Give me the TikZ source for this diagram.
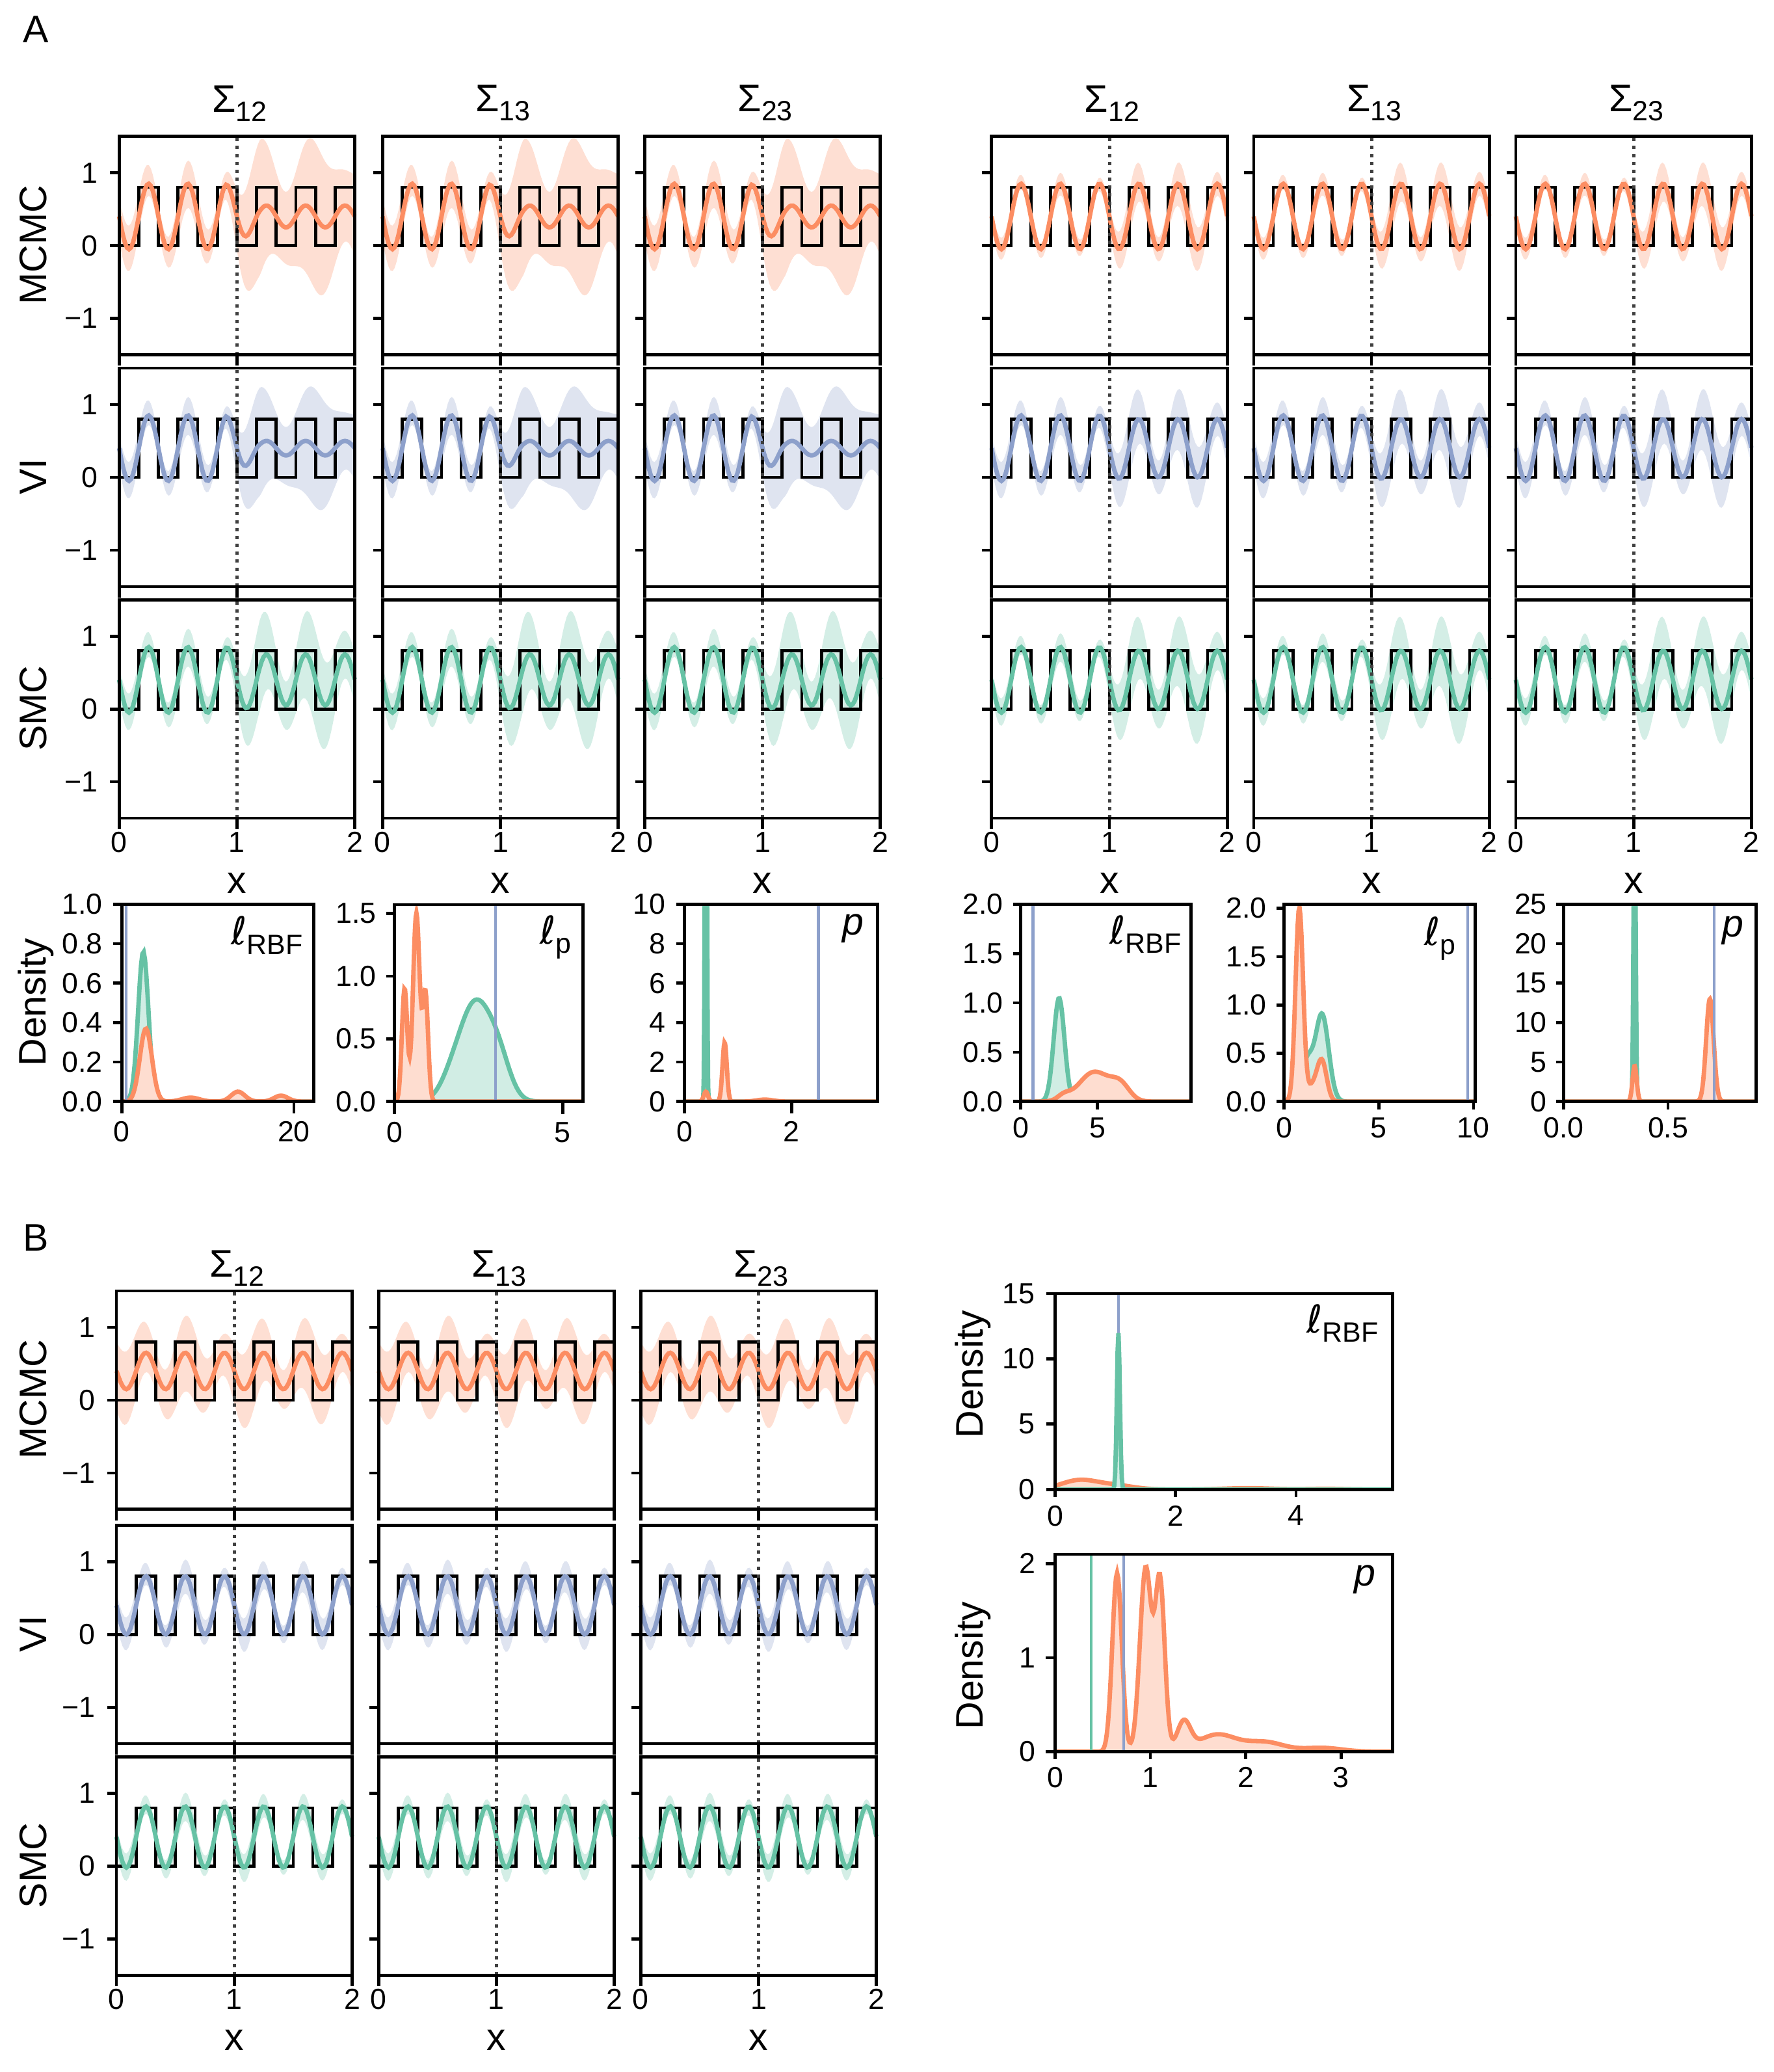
\documentclass[tikz,border=0pt]{standalone}
\usepackage{fontspec}
\setmainfont{Liberation Sans}
\newfontfamily\dv{DejaVu Sans}
\definecolor{mcmc}{HTML}{FC8D62}
\definecolor{vi}{HTML}{8DA0CB}
\definecolor{smc}{HTML}{66C2A5}
\newcommand\sub[1]{\raisebox{-0.45ex}{\fontsize{12}{12}\selectfont #1}}
\tikzset{
  tk/.style={font=\fontsize{12.5}{12}\selectfont},
  big/.style={font=\fontsize{16.5}{16}\selectfont},
  frame/.style={line width=1.3pt},
  meanl/.style={line width=1.9pt},
  declare function={g(\x,\m,\s,\h)=\h*exp(-0.5*min(abs((\x-\m)/\s),5)^2);
    sm(\x)=min(1,max(0,(\x-0.9)/0.3));}
}
\newcommand\gp[7]{%
\begin{scope}[shift={(#1,#2+82.5)},xscale=89,yscale=-55]
 \fill[#3!28] plot[domain=0:2,samples=120] (\x,{0.4+(#4+(#5-#4)*sm(\x))*cos(1080*(\x-0.25))+(#6+(#7-#6)*sm(\x))*(1+0.35*sin(700*\x))})
   -- plot[domain=2:0,samples=120] (\x,{0.4+(#4+(#5-#4)*sm(\x))*cos(1080*(\x-0.25))-(#6+(#7-#6)*sm(\x))*(1+0.35*cos(650*\x))}) -- cycle;
 \draw[line width=1.3pt] (0,0) \foreach \k in {0,...,5}{ -- ({\k/3+1/6},0) -- ({\k/3+1/6},0.8) -- ({\k/3+1/3},0.8) -- ({\k/3+1/3},0)} ;
 \draw[#3,meanl] plot[domain=0:2,samples=120] (\x,{0.4+(#4+(#5-#4)*sm(\x))*cos(1080*(\x-0.25))});
 \draw[line width=1.4pt,dotted,black!75] (1,-1.5)--(1,1.5);
 \draw[frame] (0,-1.5) rectangle (2,1.5);
 \foreach \y in {-1,0,1} \draw[frame] (-0.08,\y)--(0,\y);
 \foreach \x in {0,1,2} \draw[frame] (\x,-1.5)--(\x,-1.65);
\end{scope}}
\newcommand\ylab[2]{%
 \node[tk,anchor=east] at (#1-10,#2+27.5) {1};
 \node[tk,anchor=east] at (#1-10,#2+82.5) {0};
 \node[tk,anchor=east] at (#1-10,#2+137.5) {−1};}
\newcommand\xlab[2]{%
 \foreach \v [count=\i from 0] in {0,1,2} \node[tk] at (#1+\i*89,#2+183) {\v};
 \node[big] at (#1+89,#2+214) {x};}
\begin{document}
\begin{tikzpicture}[x=0.02cm,y=-0.02cm]
\useasboundingbox (0,0) rectangle (1340,1565);
\node[big] at (27,22) {A};
\node[big] at (27,935) {B};
\foreach \xa/\s in {90/12,289/13,487/23,749/12,947/13,1145/23}
  \node[big] at (\xa+91,78) {Σ\sub{\s}};
\foreach \xa/\s in {88/12,286/13,484/23}
  \node[big] at (\xa+91,958) {Σ\sub{\s}};
\foreach \xa in {90,289,487}{
 \gp{\xa}{103}{mcmc}{0.45}{0.15}{0.25}{0.75}
 \gp{\xa}{278}{vi}{0.45}{0.1}{0.2}{0.6}
 \gp{\xa}{453}{smc}{0.45}{0.35}{0.2}{0.5}
 \xlab{\xa}{453}}
\foreach \xa in {749,947,1145}{
 \gp{\xa}{103}{mcmc}{0.45}{0.45}{0.12}{0.25}
 \gp{\xa}{278}{vi}{0.45}{0.4}{0.2}{0.35}
 \gp{\xa}{453}{smc}{0.45}{0.4}{0.15}{0.4}
 \xlab{\xa}{453}}
\foreach \xa in {88,286,484}{
 \gp{\xa}{975}{mcmc}{0.25}{0.25}{0.4}{0.4}
 \gp{\xa}{1152}{vi}{0.4}{0.4}{0.18}{0.18}
 \gp{\xa}{1327}{smc}{0.42}{0.42}{0.15}{0.15}
 \xlab{\xa}{1327}}
\ylab{90}{103}\ylab{90}{278}\ylab{90}{453}
\ylab{88}{975}\ylab{88}{1152}\ylab{88}{1327}
\foreach \t/\y in {MCMC/185,VI/360,SMC/535,MCMC/1057,VI/1234,SMC/1409}
  \node[big,rotate=90] at (25,\y) {\t};
\node[big,rotate=90] at (27,757) {Density};
\node[big,rotate=90] at (735,1038) {Density};
\node[big,rotate=90] at (735,1258) {Density};
% D1
\begin{scope}[shift={(92,832)},xscale=6.5,yscale=-149]
 \begin{scope}\clip (0,0) rectangle (22.3,1);
 \fill[smc!30] plot[domain=0:22.3,samples=150] (\x,{g(\x,2.5,0.6,0.76)}) -- (22.3,0) -- (0,0);
 \draw[smc,meanl] plot[domain=0:22.3,samples=150] (\x,{g(\x,2.5,0.6,0.76)});
 \fill[mcmc!30] plot[domain=0:22.3,samples=150] (\x,{g(\x,2.8,0.7,0.37)+g(\x,13.5,0.8,0.05)+g(\x,8,1,0.02)+g(\x,18.5,0.8,0.03)}) -- (22.3,0) -- (0,0);
 \draw[mcmc,meanl] plot[domain=0:22.3,samples=150] (\x,{g(\x,2.8,0.7,0.37)+g(\x,13.5,0.8,0.05)+g(\x,8,1,0.02)+g(\x,18.5,0.8,0.03)});
 \draw[vi,line width=1.2pt] (0.5,0)--(0.5,1);
 \end{scope}
 \draw[frame] (0,0) rectangle (22.3,1);
 \foreach \y/\l in {0/0.0,0.2/0.2,0.4/0.4,0.6/0.6,0.8/0.8,1/1.0}{\draw[frame](0,\y)--(-1,\y);\node[tk,anchor=east] at (-1.3,\y){\l};}
 \foreach \x in {0,20}{\draw[frame](\x,0)--(\x,-0.06);\node[tk,anchor=north] at (\x,-0.06){\x};}
 \node[big,anchor=north east] at (22,0.98) {{\dv ℓ}\sub{RBF}};
\end{scope}
% D2
\begin{scope}[shift={(298,832)},xscale=25.4,yscale=-94.7]
 \begin{scope}\clip (0,0) rectangle (5.6,1.57);
 \fill[smc!30] plot[domain=0:5.6,samples=150] (\x,{g(\x,2.4,0.45,0.75)+g(\x,3.1,0.35,0.3)+g(\x,1.7,0.35,0.15)}) -- (5.6,0) -- (0,0);
 \draw[smc,meanl] plot[domain=0:5.6,samples=150] (\x,{g(\x,2.4,0.45,0.75)+g(\x,3.1,0.35,0.3)+g(\x,1.7,0.35,0.15)});
 \fill[mcmc!30] plot[domain=0:5.6,samples=250] (\x,{g(\x,0.3,0.08,0.9)+g(\x,0.65,0.1,1.5)+g(\x,0.92,0.08,0.85)}) -- (5.6,0) -- (0,0);
 \draw[mcmc,meanl] plot[domain=0:5.6,samples=250] (\x,{g(\x,0.3,0.08,0.9)+g(\x,0.65,0.1,1.5)+g(\x,0.92,0.08,0.85)});
 \draw[vi,line width=1.2pt] (3,0)--(3,1.57);
 \end{scope}
 \draw[frame] (0,0) rectangle (5.6,1.57);
 \foreach \y/\l in {0/0.0,0.5/0.5,1/1.0,1.5/1.5}{\draw[frame](0,\y)--(-0.25,\y);\node[tk,anchor=east] at (-0.3,\y){\l};}
 \foreach \x in {0,5}{\draw[frame](\x,0)--(\x,-0.1);\node[tk,anchor=north] at (\x,-0.1){\x};}
 \node[big,anchor=north east] at (5.5,1.55) {{\dv ℓ}\sub{p}};
\end{scope}
% D3
\begin{scope}[shift={(517,832)},xscale=40.5,yscale=-14.9]
 \begin{scope}\clip (0,0) rectangle (3.6,10);
 \fill[smc!30] plot[domain=0:3.6,samples=400] (\x,{g(\x,0.4,0.015,40)}) -- (3.6,0) -- (0,0);
 \draw[smc,meanl] plot[domain=0:3.6,samples=400] (\x,{g(\x,0.4,0.015,40)});
 \fill[mcmc!30] plot[domain=0:3.6,samples=300] (\x,{g(\x,0.75,0.04,3)+g(\x,1.5,0.15,0.1)+g(\x,0.4,0.04,0.5)}) -- (3.6,0) -- (0,0);
 \draw[mcmc,meanl] plot[domain=0:3.6,samples=300] (\x,{g(\x,0.75,0.04,3)+g(\x,1.5,0.15,0.1)+g(\x,0.4,0.04,0.5)});
 \draw[vi,line width=1.2pt] (2.5,0)--(2.5,10);
 \end{scope}
 \draw[frame] (0,0) rectangle (3.6,10);
 \foreach \y in {0,2,...,10}{\draw[frame](0,\y)--(-0.15,\y);\node[tk,anchor=east] at (-0.2,\y){\y};}
 \foreach \x in {0,2}{\draw[frame](\x,0)--(\x,-0.6);\node[tk,anchor=north] at (\x,-0.6){\x};}
 \node[big,anchor=north east] at (3.5,9.9) {\itshape p};
\end{scope}
% D4
\begin{scope}[shift={(771,832)},xscale=11.6,yscale=-74.5]
 \begin{scope}\clip (0,0) rectangle (11.1,2);
 \fill[smc!30] plot[domain=0:11.1,samples=150] (\x,{g(\x,2.5,0.35,1.05)}) -- (11.1,0) -- (0,0);
 \draw[smc,meanl] plot[domain=0:11.1,samples=150] (\x,{g(\x,2.5,0.35,1.05)});
 \fill[mcmc!30] plot[domain=0:11.1,samples=150] (\x,{g(\x,4.8,1,0.3)+g(\x,6.5,0.6,0.15)+g(\x,2.8,0.4,0.05)}) -- (11.1,0) -- (0,0);
 \draw[mcmc,meanl] plot[domain=0:11.1,samples=150] (\x,{g(\x,4.8,1,0.3)+g(\x,6.5,0.6,0.15)+g(\x,2.8,0.4,0.05)});
 \draw[vi,line width=1.2pt] (0.8,0)--(0.8,2);
 \end{scope}
 \draw[frame] (0,0) rectangle (11.1,2);
 \foreach \y/\l in {0/0.0,0.5/0.5,1/1.0,1.5/1.5,2/2.0}{\draw[frame](0,\y)--(-0.5,\y);\node[tk,anchor=east] at (-0.6,\y){\l};}
 \foreach \x in {0,5}{\draw[frame](\x,0)--(\x,-0.08);\node[tk,anchor=north] at (\x,-0.08){\x};}
 \node[big,anchor=north east] at (11,1.97) {{\dv ℓ}\sub{RBF}};
\end{scope}
% D5
\begin{scope}[shift={(970,832)},xscale=14.3,yscale=-73]
 \begin{scope}\clip (0,0) rectangle (10.1,2.04);
 \fill[smc!30] plot[domain=0:10.1,samples=200] (\x,{g(\x,2,0.35,0.9)+g(\x,1.2,0.3,0.4)}) -- (10.1,0) -- (0,0);
 \draw[smc,meanl] plot[domain=0:10.1,samples=200] (\x,{g(\x,2,0.35,0.9)+g(\x,1.2,0.3,0.4)});
 \fill[mcmc!30] plot[domain=0:10.1,samples=200] (\x,{g(\x,0.8,0.2,2)+g(\x,2,0.25,0.4)+g(\x,1.5,0.3,0.15)}) -- (10.1,0) -- (0,0);
 \draw[mcmc,meanl] plot[domain=0:10.1,samples=200] (\x,{g(\x,0.8,0.2,2)+g(\x,2,0.25,0.4)+g(\x,1.5,0.3,0.15)});
 \draw[vi,line width=1.2pt] (9.7,0)--(9.7,2.04);
 \end{scope}
 \draw[frame] (0,0) rectangle (10.1,2.04);
 \foreach \y/\l in {0/0.0,0.5/0.5,1/1.0,1.5/1.5,2/2.0}{\draw[frame](0,\y)--(-0.4,\y);\node[tk,anchor=east] at (-0.5,\y){\l};}
 \foreach \x in {0,5,10}{\draw[frame](\x,0)--(\x,-0.08);\node[tk,anchor=north] at (\x,-0.08){\x};}
 \node[big,anchor=north east] at (9.5,2) {{\dv ℓ}\sub{p}};
\end{scope}
% D6
\begin{scope}[shift={(1181,832)},xscale=158,yscale=-5.96]
 \begin{scope}\clip (0,0) rectangle (0.92,25);
 \fill[smc!30] plot[domain=0:0.92,samples=400] (\x,{g(\x,0.34,0.005,40)}) -- (0.92,0) -- (0,0);
 \draw[smc,meanl] plot[domain=0:0.92,samples=400] (\x,{g(\x,0.34,0.005,40)});
 \fill[mcmc!30] plot[domain=0:0.92,samples=400] (\x,{g(\x,0.34,0.01,4.5)+g(\x,0.7,0.018,13)}) -- (0.92,0) -- (0,0);
 \draw[mcmc,meanl] plot[domain=0:0.92,samples=400] (\x,{g(\x,0.34,0.01,4.5)+g(\x,0.7,0.018,13)});
 \draw[vi,line width=1.2pt] (0.72,0)--(0.72,25);
 \end{scope}
 \draw[frame] (0,0) rectangle (0.92,25);
 \foreach \y in {0,5,...,25}{\draw[frame](0,\y)--(-0.035,\y);\node[tk,anchor=east] at (-0.04,\y){\y};}
 \foreach \x/\l in {0/0.0,0.5/0.5}{\draw[frame](\x,0)--(\x,-1);\node[tk,anchor=north] at (\x,-1){\l};}
 \node[big,anchor=north east] at (0.9,24.5) {\itshape p};
\end{scope}
% B1
\begin{scope}[shift={(797,1125)},xscale=45.5,yscale=-9.87]
 \begin{scope}\clip (0,0) rectangle (5.6,15);
 \fill[mcmc!30] plot[domain=0:5.6,samples=200] (\x,{g(\x,0.4,0.3,0.7)+g(\x,1,0.3,0.3)+g(\x,3.2,0.4,0.1)+g(\x,4.5,0.3,0.05)}) -- (5.6,0) -- (0,0);
 \draw[mcmc,meanl] plot[domain=0:5.6,samples=200] (\x,{g(\x,0.4,0.3,0.7)+g(\x,1,0.3,0.3)+g(\x,3.2,0.4,0.1)+g(\x,4.5,0.3,0.05)});
 \draw[vi,line width=1.2pt] (1.05,0)--(1.05,15);
 \fill[smc!30] plot[domain=0:5.6,samples=400] (\x,{g(\x,1.05,0.025,12)}) -- (5.6,0) -- (0,0);
 \draw[smc,meanl] plot[domain=0:5.6,samples=400] (\x,{g(\x,1.05,0.025,12)});
 \end{scope}
 \draw[frame] (0,0) rectangle (5.6,15);
 \foreach \y in {0,5,10,15}{\draw[frame](0,\y)--(-0.15,\y);\node[tk,anchor=east] at (-0.2,\y){\y};}
 \foreach \x in {0,2,4}{\draw[frame](\x,0)--(\x,-0.6);\node[tk,anchor=north] at (\x,-0.6){\x};}
 \node[big,anchor=north east] at (5.5,14.8) {{\dv ℓ}\sub{RBF}};
\end{scope}
% B2
\begin{scope}[shift={(797,1323)},xscale=72,yscale=-71]
 \begin{scope}\clip (0,0) rectangle (3.54,2.1);
 \fill[mcmc!30] plot[domain=0:3.54,samples=300] (\x,{g(\x,0.65,0.05,1.9)+g(\x,0.95,0.06,1.95)+g(\x,1.1,0.05,1.8)+g(\x,1.35,0.07,0.3)+g(\x,1.7,0.2,0.18)+g(\x,2.2,0.2,0.1)+g(\x,2.8,0.2,0.04)}) -- (3.54,0) -- (0,0);
 \draw[mcmc,meanl] plot[domain=0:3.54,samples=300] (\x,{g(\x,0.65,0.05,1.9)+g(\x,0.95,0.06,1.95)+g(\x,1.1,0.05,1.8)+g(\x,1.35,0.07,0.3)+g(\x,1.7,0.2,0.18)+g(\x,2.2,0.2,0.1)+g(\x,2.8,0.2,0.04)});
 \draw[smc,line width=1.2pt] (0.38,0)--(0.38,2.1);
 \draw[vi,line width=1.2pt] (0.72,0)--(0.72,2.1);
 \end{scope}
 \draw[frame] (0,0) rectangle (3.54,2.1);
 \foreach \y in {0,1,2}{\draw[frame](0,\y)--(-0.1,\y);\node[tk,anchor=east] at (-0.12,\y){\y};}
 \foreach \x in {0,1,2,3}{\draw[frame](\x,0)--(\x,-0.08);\node[tk,anchor=north] at (\x,-0.08){\x};}
 \node[big,anchor=north east] at (3.45,2.07) {\itshape p};
\end{scope}
\end{tikzpicture}
\end{document}
